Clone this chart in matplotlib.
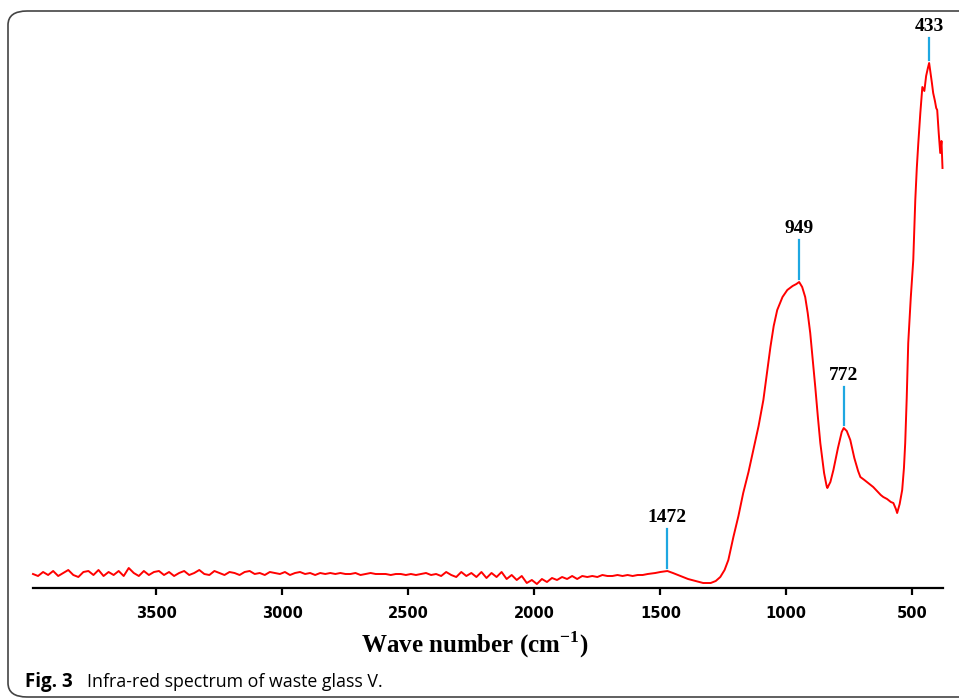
import numpy as np
import matplotlib
matplotlib.use("Agg")
import matplotlib.pyplot as plt
from matplotlib.patches import FancyBboxPatch

plt.rcParams["mathtext.fontset"] = "custom"
plt.rcParams["mathtext.rm"] = "Liberation Serif"
plt.rcParams["mathtext.bf"] = "Liberation Serif:bold"

# flat noisy baseline, sampled every 20 cm-1 from 3990 down to 1570
base_wn = np.arange(3990, 1569, -20)
base_abs = [
    14, 12, 16, 13, 17, 12, 15, 18, 13, 11, 16, 17, 13, 18, 12, 16, 13, 17, 12, 20,
    15, 12, 17, 13, 16, 17, 13, 16, 12, 15, 17, 13, 15, 18, 14, 13, 17, 15, 13, 16,
    15, 13, 16, 17, 14, 15, 13, 16, 15, 14, 16, 13, 15, 16, 14, 15, 13, 15, 14, 15,
    14, 15, 14, 14, 15, 13, 14, 15, 14, 14, 14, 13, 14, 14, 13, 14, 13, 14, 15, 13,
    14, 12, 16, 13, 11, 16, 12, 15, 11, 16, 10, 15, 11, 16, 9, 13, 8, 12, 5, 8,
    4, 9, 6, 10, 8, 11, 9, 12, 9, 12, 11, 12, 11, 13, 12, 12, 13, 12, 13, 12,
    13, 13,
]

# band region (wave number, absorbance a.u.)
band_wn = [1550, 1520, 1500, 1472, 1450, 1420, 1390, 1360, 1330, 1300, 1280, 1262,
           1245, 1230, 1210, 1190, 1171, 1150, 1131, 1110, 1091, 1075, 1063, 1050,
           1036, 1015, 996, 975, 960, 949, 937, 925, 915, 905, 895, 885, 875, 865,
           850, 840, 837, 825, 813, 795, 780, 772, 760, 746, 730, 715, 706, 690,
           670, 655, 640, 625, 615, 600, 585, 575, 565, 560, 550, 540, 533, 528,
           522, 516, 506, 496, 488, 482, 476, 468, 460, 452, 445, 438, 433, 428,
           422, 417, 410, 405, 401, 395, 389, 384, 380]
band_abs = [14, 15, 16, 17, 15, 12, 9, 7, 5, 5, 7, 11,
            18, 28, 51, 72, 95, 116, 138, 162, 188, 218, 241, 262,
            278, 291, 298, 302, 304, 306, 301, 291, 275, 255, 228, 201, 172, 145,
            115, 102, 100, 106, 118, 140, 156, 160, 157, 148, 130, 117, 111, 108,
            104, 101, 97, 93, 91, 89, 86, 85, 79, 75, 84, 98, 120, 145,
            190, 245, 290, 328, 388, 420, 445, 475, 501, 497, 512, 520, 525, 516,
            505, 495, 487, 480, 478, 455, 435, 447, 420]

peaks = [1472, 949, 772, 433]
peak_line_len = [39, 39, 38, 22]
xticks = [3500, 3000, 2500, 2000, 1500, 1000, 500]

wn = np.concatenate([base_wn, band_wn])
absb = np.concatenate([base_abs, band_abs])

fig = plt.figure(figsize=(9.59, 7.0), dpi=100)
W, H = 959, 700

# rounded frame around the figure
frame = FancyBboxPatch((8 / W, 3 / H), 1.2, (694 - 8) / H,
                       boxstyle="round,pad=0,rounding_size=0.02",
                       transform=fig.transFigure, fill=False,
                       edgecolor="#444444", linewidth=1.2)
fig.patches.append(frame)

ax = fig.add_axes([33 / W, 1 - 588 / H, (943 - 33) / W, (588 - 20) / H])
ax.plot(wn, absb, color="#ff0000", linewidth=1.4, clip_on=False)
ax.set_xlim(3990, 378)
ax.set_ylim(0, 568)

for s in ["top", "right", "left"]:
    ax.spines[s].set_visible(False)
ax.spines["bottom"].set_linewidth(1.6)
ax.set_yticks([])
ax.set_xticks(xticks)
ax.set_xticklabels([str(t) for t in xticks], fontsize=10.5, fontweight="bold",
                   family="DejaVu Sans")
ax.tick_params(axis="x", direction="out", length=5, width=1.6, pad=8)

# peak markers
curve_x = wn[::-1]
curve_y = absb[::-1]
for p, ln in zip(peaks, peak_line_len):
    top = np.interp(p, curve_x, curve_y)
    y0 = top + 3
    y1 = y0 + ln
    ax.plot([p, p], [y0, y1], color="#1ea7e1", linewidth=1.6, clip_on=False)
    ax.text(p, y1 + 3, str(p), ha="center", va="bottom", fontsize=14,
            fontweight="bold", family="Liberation Serif", clip_on=False)

fig.text(475 / W, 1 - 645 / H, "Wave number (cm$^{\\mathbf{-1}}$)",
         ha="center", va="center", fontsize=18, fontweight="bold",
         family="Liberation Serif")

fig.text(25 / W, 1 - 682 / H, "Fig. 3", ha="left", va="center", fontsize=13.5,
         fontweight="bold", family="Open Sans")
fig.text(87 / W, 1 - 682 / H, "Infra-red spectrum of waste glass V.", ha="left",
         va="center", fontsize=12.8, family="Open Sans")

fig.savefig("out.png", dpi=100)
